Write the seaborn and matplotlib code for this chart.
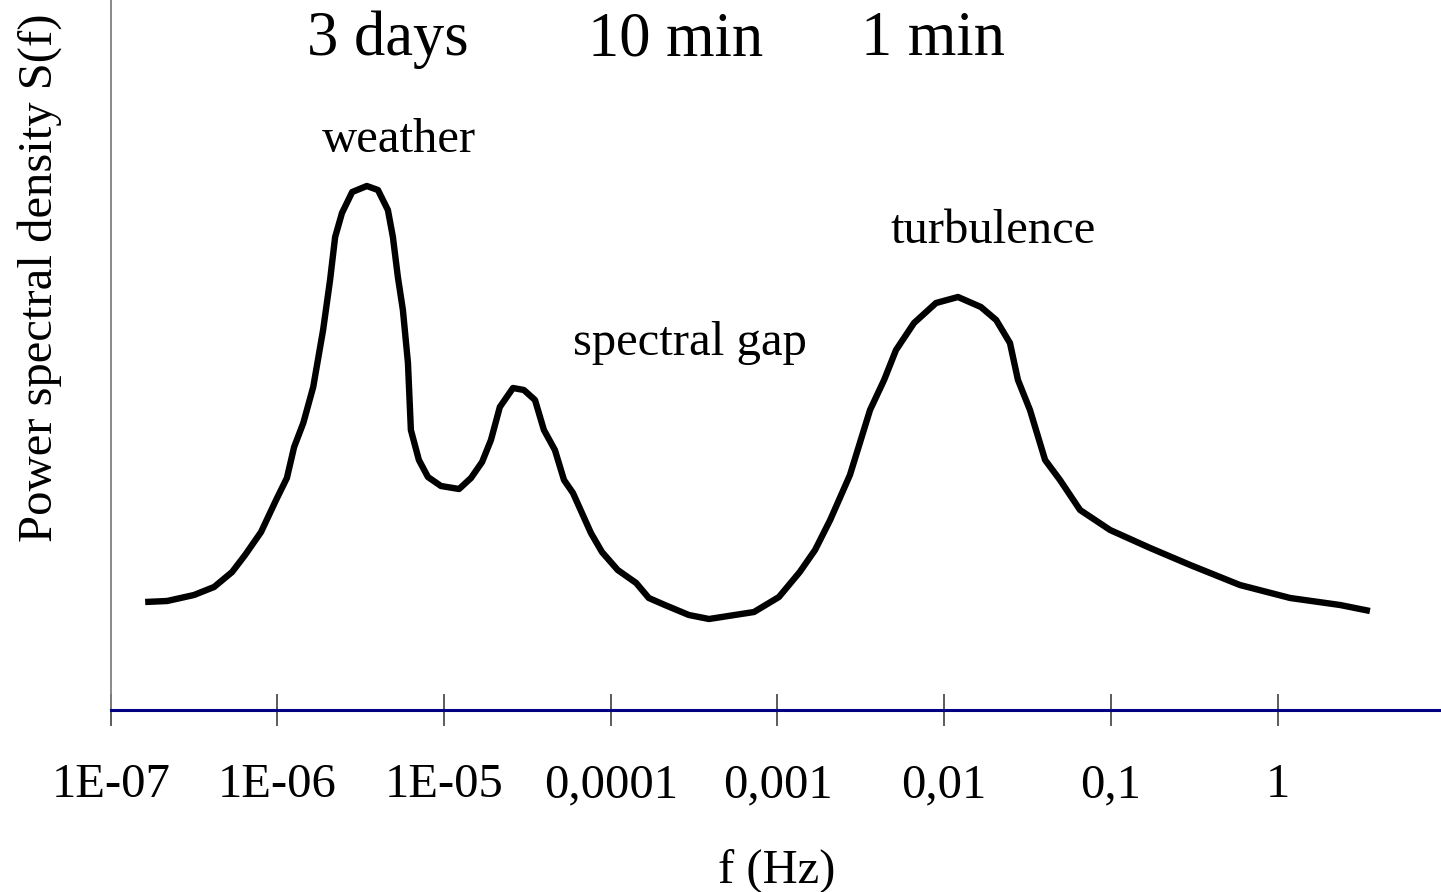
import pandas as pd
import matplotlib
matplotlib.use("Agg")
import matplotlib.pyplot as plt
import seaborn as sns

# Spectrum (frequency in Hz, arbitrary power units)
freq_hz = [1.61e-7, 2.18e-7, 3.16e-7, 4.17e-7, 5.35e-7, 6.40e-7, 7.98e-7, 9.82e-7,
           1.14e-6, 1.26e-6, 1.43e-6, 1.64e-6, 1.88e-6, 2.07e-6, 2.22e-6, 2.44e-6,
           2.81e-6, 3.44e-6, 4.01e-6, 4.60e-6, 4.93e-6, 5.28e-6, 5.66e-6, 6.07e-6,
           6.32e-6, 7.06e-6, 8.00e-6, 9.57e-6, 1.23e-5, 1.45e-5, 1.69e-5, 1.91e-5,
           2.16e-5, 2.59e-5, 3.01e-5, 3.51e-5, 3.97e-5, 4.62e-5, 5.24e-5, 5.93e-5,
           7.60e-5, 8.85e-5, 1.10e-4, 1.42e-4, 1.69e-4, 2.11e-4, 2.94e-4, 3.88e-4,
           7.23e-4, 1.02e-3, 1.36e-3, 1.68e-3, 2.07e-3, 2.72e-3, 3.59e-3, 4.36e-3,
           5.14e-3, 6.59e-3, 8.93e-3, 1.21e-2, 1.66e-2, 2.05e-2, 2.48e-2, 2.77e-2,
           3.27e-2, 4.03e-2, 4.95e-2, 6.53e-2, 9.89e-2, 0.172, 0.299, 0.594,
           1.19, 2.37, 3.58]
power = [108, 109, 115, 123, 138, 155, 178, 210,
         232, 263, 287, 323, 380, 430, 473, 497,
         518, 524, 520, 500, 473, 433, 400, 347,
         280, 250, 233, 224, 221, 232, 248, 270,
         303, 322, 320, 310, 280, 260, 230, 217,
         177, 158, 140, 127, 112, 105, 95, 91,
         98, 113, 138, 160, 190, 235, 300, 330,
         360, 387, 407, 413, 403, 390, 367, 330,
         300, 250, 230, 200, 180, 162, 145, 125,
         112, 105, 99]

tick_values = [1e-7, 1e-6, 1e-5, 1e-4, 1e-3, 1e-2, 1e-1, 1]
tick_labels = ["1E-07", "1E-06", "1E-05", "0,0001", "0,001", "0,01", "0,1", "1"]

period_labels = ["3 days", "10 min", "1 min"]
period_freq = [4.61e-6, 2.44e-4, 8.57e-3]

region_labels = ["weather", "spectral gap", "turbulence"]
region_freq = [5.37e-6, 2.98e-4, 1.96e-2]
region_level = [558, 355, 467]

df = pd.DataFrame({"f": freq_hz, "S": power})

sns.set_theme(style="white")
plt.rcParams["font.family"] = ["Liberation Serif", "DejaVu Serif"]
plt.rcParams["text.color"] = "black"

W, H = 1441, 892
fig = plt.figure(figsize=(W / 100, H / 100), dpi=100)
left = 110.7 / W
bottom = (H - 710) / H
ax = fig.add_axes([left, bottom, 8 * 166.7 / W, 710 / H])

sns.lineplot(data=df, x="f", y="S", ax=ax, color="black", linewidth=4.6, sort=False,
             solid_joinstyle="round", solid_capstyle="butt")

ax.set_xscale("log")
ax.set_xlim(1e-7, 10)
ax.set_ylim(0, 710)

for side in ["top", "right"]:
    ax.spines[side].set_visible(False)
ax.spines["left"].set_color("#808080")
ax.spines["left"].set_linewidth(1.3)
ax.spines["bottom"].set_color("#000080")
ax.spines["bottom"].set_linewidth(2.2)

ax.set_xticks(tick_values)
ax.set_xticklabels(tick_labels)
ax.xaxis.set_minor_locator(matplotlib.ticker.NullLocator())
ax.tick_params(axis="x", direction="inout", length=23, width=1.2, color="#404040",
               labelsize=35, labelcolor="black", pad=27, bottom=True)
ax.set_yticks([])
ax.set_xlabel("")
ax.set_ylabel("")

for label, f in zip(period_labels, period_freq):
    ax.text(f, 655, label, fontsize=45, ha="center", va="baseline")

for label, f, lvl in zip(region_labels, region_freq, region_level):
    ax.text(f, lvl, label, fontsize=35, ha="center", va="baseline")

fig.text(777 / W, 1 - 883 / H, "f (Hz)", fontsize=35, ha="center", va="baseline")
fig.text(52 / W, 1 - 278 / H, "Power spectral density S(f)", fontsize=35,
         rotation=90, rotation_mode="anchor", ha="center", va="baseline")

fig.savefig("out.png", dpi=100)
